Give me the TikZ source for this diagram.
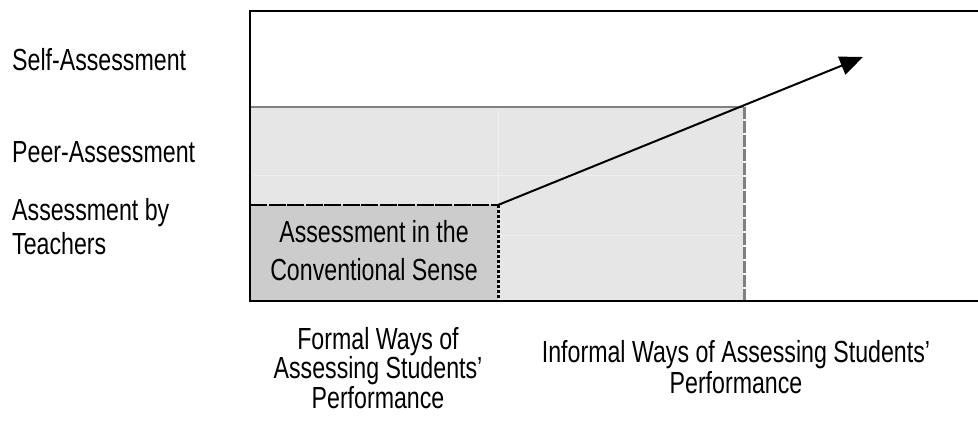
\documentclass[tikz,border=0pt]{standalone}
\usepackage{fontspec}
\setmainfont[FakeStretch=0.76]{Liberation Sans}
\usetikzlibrary{arrows.meta}
\definecolor{lightfill}{HTML}{E6E6E6}
\definecolor{darkfill}{HTML}{CCCCCC}
\definecolor{edgegray}{HTML}{808080}
\definecolor{faint}{HTML}{EFEFEF}
\begin{document}
\begin{tikzpicture}[x=1pt,y=-1pt,
  lbl/.style={inner sep=0pt, font=\fontsize{30.5}{34}\selectfont},
  frameline/.style={line width=2.5pt},
  arrowline/.style={line width=2pt, -{Triangle[length=23pt,width=19pt]}}]
\useasboundingbox (0,0) rectangle (978,425);
% shaded regions
\fill[lightfill] (250,107) rectangle (744,301);
\fill[darkfill] (250,205) rectangle (498,301);
% faint artefact lines
\draw[faint, line width=0.8pt] (254,175) -- (740,175);
\draw[faint, line width=0.8pt] (498,110) -- (498,203);
\draw[faint, line width=0.8pt] (500,235) -- (740,235);
% region edges
\draw[edgegray, line width=2pt] (250,107) -- (744,107);
\draw[edgegray, line width=3pt, dash pattern=on 12pt off 2pt] (744,107) -- (744,301);
\draw[black, line width=2.5pt, dash pattern=on 17pt off 1.5pt] (250,205) -- (498,205);
\draw[black, line width=3pt, dash pattern=on 3pt off 2pt] (498,205) -- (498,301);
% outer frame
\draw[frameline] (990,11) -- (250,11) -- (250,301) -- (990,301);
% arrow
\coordinate (start) at (498,205);
\coordinate (tip) at (863,57);
\draw[arrowline] (start) -- (tip);
% labels
\node[lbl, anchor=west] (self) at (12,60) {Self-Assessment};
\node[lbl, anchor=west] (peer) at (12,152) {Peer-Assessment};
\node[lbl, anchor=west, align=left, font=\fontsize{30.5}{34}\selectfont] (teach) at (12,227) {Assessment by\\Teachers};
\node[lbl, align=center, font=\fontsize{30.5}{38}\selectfont] (conv) at (374,251) {Assessment in the\\Conventional Sense};
\node[lbl, align=center, font=\fontsize{30.5}{29.5}\selectfont] (formal) at (378,368) {Formal Ways of\\Assessing Students’\\Performance};
\node[lbl, align=center, font=\fontsize{30.5}{31}\selectfont] (informal) at (736,367) {Informal Ways of Assessing Students’\\Performance};
\end{tikzpicture}
\end{document}
